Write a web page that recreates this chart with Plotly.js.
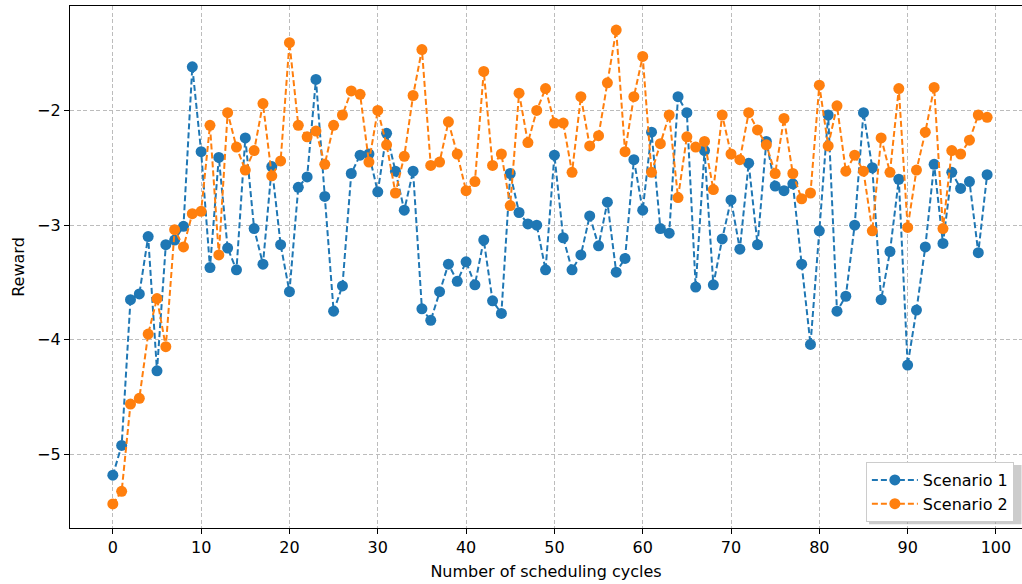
<!DOCTYPE html>
<html>
<head>
<meta charset="utf-8">
<script src="https://cdn.plot.ly/plotly-3.0.1.min.js"></script>
<style>html,body{margin:0;padding:0;background:#fff;}#chart{width:1022px;height:584px;}</style>
</head>
<body>
<div id="chart"></div>
<script>
const cycles = Array.from({length: 100}, (_, i) => i);
const scenario1 = [
-5.18,-4.92,-3.65,-3.60,-3.10,-4.27,-3.17,-3.13,-3.01,-1.62,
-2.36,-3.37,-2.41,-3.20,-3.39,-2.24,-3.03,-3.34,-2.49,-3.17,
-3.58,-2.67,-2.58,-1.73,-2.75,-3.75,-3.53,-2.55,-2.39,-2.38,
-2.71,-2.20,-2.53,-2.87,-2.53,-3.73,-3.83,-3.58,-3.34,-3.49,
-3.32,-3.52,-3.13,-3.66,-3.77,-2.55,-2.89,-2.99,-3.00,-3.39,
-2.39,-3.11,-3.39,-3.26,-2.92,-3.18,-2.80,-3.41,-3.29,-2.43,
-2.87,-2.19,-3.03,-3.07,-1.88,-2.02,-3.54,-2.35,-3.52,-3.12,
-2.78,-3.21,-2.46,-3.17,-2.27,-2.66,-2.70,-2.64,-3.34,-4.04,
-3.05,-2.04,-3.75,-3.62,-3.00,-2.02,-2.50,-3.65,-3.23,-2.60,
-4.22,-3.74,-3.19,-2.47,-3.16,-2.54,-2.68,-2.62,-3.24,-2.56];
const scenario2 = [
-5.43,-5.32,-4.56,-4.51,-3.95,-3.64,-4.06,-3.04,-3.19,-2.90,
-2.88,-2.13,-3.26,-2.02,-2.32,-2.52,-2.35,-1.94,-2.57,-2.44,
-1.41,-2.13,-2.23,-2.18,-2.47,-2.13,-2.04,-1.83,-1.86,-2.45,
-2.00,-2.30,-2.72,-2.40,-1.87,-1.47,-2.48,-2.45,-2.10,-2.38,
-2.70,-2.62,-1.66,-2.48,-2.38,-2.83,-1.85,-2.28,-2.00,-1.81,
-2.11,-2.11,-2.54,-1.88,-2.31,-2.22,-1.76,-1.30,-2.36,-1.88,
-1.53,-2.54,-2.29,-2.04,-2.76,-2.23,-2.32,-2.27,-2.69,-2.04,
-2.38,-2.43,-2.02,-2.17,-2.30,-2.55,-2.07,-2.55,-2.77,-2.72,
-1.78,-2.31,-1.96,-2.53,-2.39,-2.53,-3.05,-2.24,-2.54,-1.81,
-3.02,-2.52,-2.19,-1.80,-3.03,-2.35,-2.38,-2.26,-2.04,-2.06];
const seriesNames = ["Scenario 1", "Scenario 2"];
const xTicks = [0,10,20,30,40,50,60,70,80,90,100];
const yTicks = [-5,-4,-3,-2];

const font = {family: "DejaVu Sans, sans-serif", size: 16, color: "#000"};
function trace(y, name, color) {
  return {
    x: cycles, y: y, name: name, type: "scatter", mode: "lines+markers",
    line: {color: color, width: 2, dash: "6px,3px"},
    marker: {color: color, size: 11}
  };
}
const data = [
  trace(scenario1, seriesNames[0], "#1f77b4"),
  trace(scenario2, seriesNames[1], "#ff7f0e")
];
const gridStyle = {showgrid: true, gridcolor: "#bcbcbc", gridwidth: 1, griddash: "4px,2.5px"};
const layout = {
  width: 1022, height: 584,
  margin: {l: 70, r: 0, t: 6, b: 56, pad: 0},
  paper_bgcolor: "#fff", plot_bgcolor: "#fff",
  font: font,
  showlegend: true,
  xaxis: Object.assign({
    range: [-4.85, 102.95], tickvals: xTicks, ticktext: xTicks.map(String),
    ticks: "outside", ticklen: 5, tickcolor: "#000", tickwidth: 1,
    showline: true, linecolor: "#000", linewidth: 1.2, mirror: true,
    zeroline: false, tickfont: font,
    title: {text: "Number of scheduling cycles", font: font, standoff: 9}
  }, gridStyle),
  yaxis: Object.assign({
    range: [-5.64, -1.09], tickvals: yTicks, ticktext: yTicks.map(v => "\u2212" + Math.abs(v)),
    ticks: "outside", ticklen: 5, tickcolor: "#000", tickwidth: 1,
    showline: true, linecolor: "#000", linewidth: 1.2, mirror: false,
    zeroline: false, tickfont: font,
    title: {text: "Reward", font: font, standoff: 8}
  }, gridStyle),
  legend: {
    x: 0.836, y: 0.1264, xanchor: "left", yanchor: "top",
    bgcolor: "#fff", bordercolor: "#cccccc", borderwidth: 1,
    font: font, tracegroupgap: 0, itemwidth: 46
  },
  shapes: [{
    type: "rect", xref: "paper", yref: "paper", layer: "above",
    x0: 0.8393, x1: 0.9995, y0: 0.007, y1: 0.1207,
    fillcolor: "#999", line: {width: 0}, opacity: 0.5
  }]
};
Plotly.newPlot("chart", data, layout, {displayModeBar: false, staticPlot: true});
</script>
</body>
</html>
